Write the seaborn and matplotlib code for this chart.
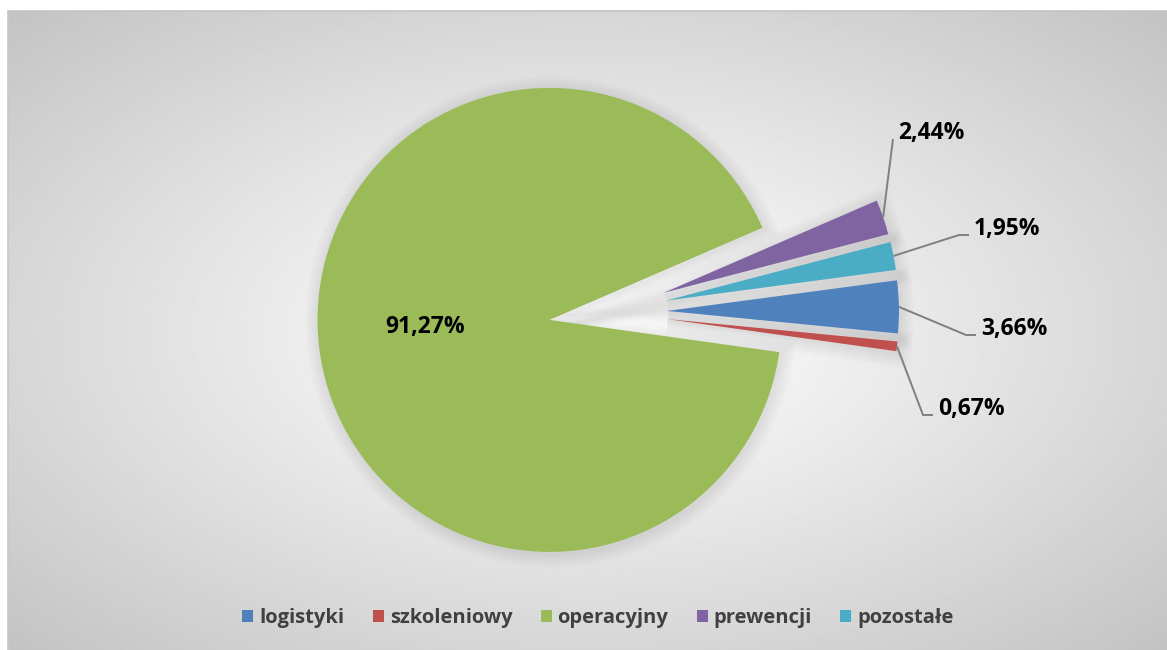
import numpy as np
import matplotlib
matplotlib.use("Agg")
import matplotlib.pyplot as plt
import matplotlib.patheffects as pe
from matplotlib.patches import Patch
import seaborn as sns

# Budget shares by area (percent)
categories = ["logistyki", "szkoleniowy", "operacyjny", "prewencji", "pozostałe"]
shares = [3.66, 0.67, 91.27, 2.44, 1.95]
share_labels = ["3,66%", "0,67%", "91,27%", "2,44%", "1,95%"]

colors = ["#4f81bd", "#c0504d", "#9bbb59", "#8064a2", "#4bacc6"]

sns.set_theme(style="white")
plt.rcParams["font.family"] = ["Open Sans", "DejaVu Sans"]

W, H = 1167, 650
fig = plt.figure(figsize=(W / 100, H / 100), dpi=100)
fig.patch.set_facecolor("white")

# Radial gradient background of the chart area
bg = fig.add_axes([0, 0, 1, 1])
bg.set_xlim(0, W)
bg.set_ylim(0, H)
bg.axis("off")
x0, y0 = 8, 11  # chart area top-left in pixels
gx = np.linspace(x0, W, 600)
gy = np.linspace(y0, H, 340)
GX, GY = np.meshgrid(gx, gy)
cx, cy = (x0 + W) / 2, (y0 + H) / 2
t = np.sqrt(((GX - cx) / ((W - x0) / 2)) ** 2 + ((GY - cy) / ((H - y0) / 2)) ** 2) / np.sqrt(2)
t = np.clip(t, 0, 1)
shade = 1 - 0.235 * t ** 1.1
bg.imshow(shade, cmap="gray", vmin=0, vmax=1, extent=[x0, W, 0, H - y0],
          origin="upper", aspect="auto", interpolation="bilinear", zorder=0)
bg.plot([x0, W], [H - y0, H - y0], color="#c4c4c4", lw=1.2, zorder=1)
bg.plot([x0, x0], [0, H - y0], color="#c8c8c8", lw=1.2, zorder=1)

# Pie axes in pixel-like units (y up)
ax = fig.add_axes([0, 0, 1, 1])
ax.patch.set_alpha(0)
center = (608, H - 312)
radius = 232
explode = [59] * len(shares)

# soft blurred shadow built from stacked translucent strokes
shadow_fx = [pe.Stroke(linewidth=lw, foreground="black", alpha=0.009, offset=(1, -1.5))
             for lw in range(2, 22, 2)]

ax.pie(shares, colors=["none"] * len(shares), explode=explode, center=center,
       radius=radius, startangle=7.6, counterclock=False,
       wedgeprops=dict(linewidth=0, path_effects=shadow_fx, zorder=1))
wedges, _ = ax.pie(shares, colors=colors, explode=explode, center=center,
                   radius=radius, startangle=7.6, counterclock=False,
                   wedgeprops=dict(linewidth=0, zorder=2))

ax.set_xlim(0, W)
ax.set_ylim(0, H)
ax.set_aspect("equal")
ax.axis("off")

label_font = dict(fontsize=16.5, fontweight="bold", color="black")

# outside labels: leader line elbow and text anchor (pixel coords, y down)
outside = {
    0: [(966, 335), (976, 335)],
    1: [(923, 415), (933, 415)],
    3: [(893, 139)],
    4: [(959, 235), (969, 235)],
}
for i, w in enumerate(wedges):
    mid = np.deg2rad((w.theta1 + w.theta2) / 2)
    wx, wy = w.center
    if i == 2:
        ax.text(wx - 124, wy - 13, share_labels[i], ha="center", va="baseline",
                zorder=5, **label_font)
        continue
    sx = wx + w.r * np.cos(mid)
    sy = wy + w.r * np.sin(mid)
    pts = [(sx, sy)] + [(px, H - py) for px, py in outside[i]]
    xs, ys = zip(*pts)
    ax.plot(xs, ys, color="#7f7f7f", lw=1.4, zorder=4, solid_capstyle="butt")
    ax.text(xs[-1] + 5, ys[-1], share_labels[i], ha="left", va="baseline",
            zorder=5, **label_font)

handles = [Patch(facecolor=c, edgecolor="none", label=n) for c, n in zip(colors, categories)]
leg = fig.legend(handles=handles, loc="center", bbox_to_anchor=(598 / W, 1 - 618 / H),
                 ncol=5, frameon=False, fontsize=14.5, handlelength=0.55, handleheight=0.55,
                 handletextpad=0.3, columnspacing=1.4)
for txt in leg.get_texts():
    txt.set_color("#404040")
    txt.set_fontweight("bold")

fig.savefig("out.png", dpi=100)
